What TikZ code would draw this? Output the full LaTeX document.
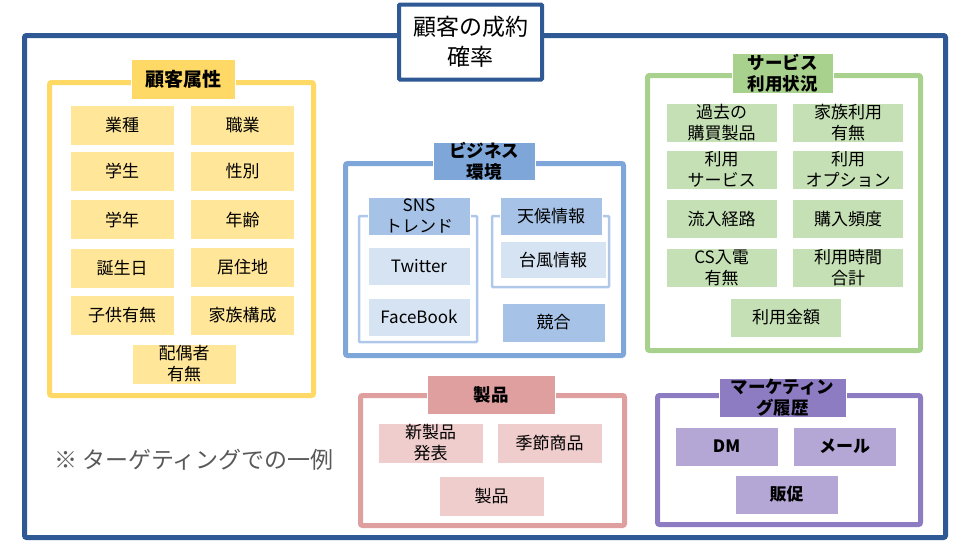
\documentclass[tikz,border=0pt]{standalone}
\usepackage{fontspec}
\setmainfont{Noto Sans CJK JP}
\usepackage{tikz}
\definecolor{tgtnavy}{HTML}{2E5994}
\definecolor{tgtgold}{HTML}{FFD966}
\definecolor{tgtgoldlt}{HTML}{FFE699}
\definecolor{tgtsky}{HTML}{7FA6D9}
\definecolor{tgtskymid}{HTML}{A6C2E6}
\definecolor{tgtskylt}{HTML}{D6E3F3}
\definecolor{tgtskyln}{HTML}{AFC8EA}
\definecolor{tgtsage}{HTML}{A9D18E}
\definecolor{tgtsagelt}{HTML}{C5E0B4}
\definecolor{tgtrose}{HTML}{DF9F9F}
\definecolor{tgtroselt}{HTML}{F0CDCD}
\definecolor{tgtviolet}{HTML}{8E7CC3}
\definecolor{tgtvioletlt}{HTML}{B4A7D6}
\definecolor{tgtgrey}{HTML}{595959}

\begin{document}
\begin{tikzpicture}[x=1pt, y=-1pt,
  frm/.style={draw=#1, line width=5pt, rounded corners=2pt, inner sep=0pt},
  sub/.style={draw=tgtskyln, line width=2.5pt, rounded corners=1pt, inner sep=0pt},
  it/.style={fill=#1, draw=white, line width=0.8pt, inner sep=0pt, align=center, font=\fontsize{17}{21}\selectfont},
  ttl/.style={it=#1, font=\fontsize{17.5}{21}\selectfont\bfseries},
  yi/.style={it=tgtgoldlt, minimum width=104pt, minimum height=40pt},
  gi/.style={it=tgtsagelt, minimum width=111pt, minimum height=39pt},
  pi/.style={it=tgtroselt, minimum width=105pt, minimum height=40pt},
  vi/.style={it=tgtvioletlt, minimum width=103pt, minimum height=39pt, font=\fontsize{17}{21}\selectfont\bfseries},
  head/.style={draw=tgtnavy, fill=white, line width=4pt, rounded corners=1pt, align=center, inner sep=0pt, font=\fontsize{23}{30}\selectfont}]
  \useasboundingbox (0,0) rectangle (968,550);
  % ---- whole ----
  \node[frm=tgtnavy, minimum width=921pt, minimum height=502pt] (whole) at (485,286.5) {};
  \node[head, minimum width=143pt, minimum height=75pt] (goal) at (470.5,42) {顧客の成約\\確率};
  \node[text=tgtgrey, font=\fontsize{23}{27}\selectfont] (note) at (194,460) {※ ターゲティングでの一例};
  % ---- 顧客属性 ----
  \begin{scope}
    \node[frm=tgtgold, minimum width=264pt, minimum height=313pt] (attr) at (181.5,239) {};
    \node[ttl=tgtgold, minimum width=104pt, minimum height=40pt, font=\fontsize{19}{21}\selectfont\bfseries] (attrT) at (183,79) {顧客属性};
    \foreach \i/\x/\y/\t in {1/122/125/業種, 2/242.5/125/職業, 3/122/171/学生, 4/242.5/171/性別, 5/122/219.5/学年, 6/242.5/219.5/年齢, 7/122/268.5/誕生日, 8/242.5/267/居住地, 9/122/315.5/子供有無, 10/242.5/315.5/家族構成, 11/184/364/{配偶者\\有無}} { \node[yi] (a\i) at (\x,\y) {\t}; }
  \end{scope}
  % ---- ビジネス環境 ----
  \begin{scope}
    \node[frm=tgtsky, minimum width=278pt, minimum height=192pt] (biz) at (484.5,259.5) {};
    \node[ttl=tgtsky, minimum width=102pt, minimum height=38pt] (bizT) at (484,161) {ビジネス\\環境};
    \node[sub, minimum width=118pt, minimum height=126pt] (sns) at (418,279) {};
    \node[it=tgtskymid, minimum width=102pt, minimum height=38pt] (snsT) at (419,216) {SNS\\トレンド};
    \node[it=tgtskylt, minimum width=102pt, minimum height=38pt] (tw) at (419,266) {Twitter};
    \node[it=tgtskylt, minimum width=102pt, minimum height=38pt] (fb) at (419,317) {FaceBook};
    \node[sub, minimum width=117pt, minimum height=71pt] (wx) at (550.5,251.5) {};
    \node[it=tgtskymid, minimum width=102pt, minimum height=38pt] (wxT) at (551,216) {天候情報};
    \node[it=tgtskylt, minimum width=106pt, minimum height=37pt] (typh) at (553,260) {台風情報};
    \node[it=tgtskymid, minimum width=103pt, minimum height=39pt] (rival) at (553.5,322.5) {競合};
  \end{scope}
  % ---- サービス利用状況 ----
  \begin{scope}
    \node[frm=tgtsage, minimum width=273pt, minimum height=275pt] (svc) at (784,213) {};
    \node[ttl=tgtsage, minimum width=101pt, minimum height=40pt] (svcT) at (782.5,73) {サービス\\利用状況};
    \foreach \i/\x/\y/\t in {1/721.5/123/{過去の\\購買製品}, 2/848/123/{家族利用\\有無}, 3/721.5/169.5/{利用\\サービス}, 4/848/169.5/{利用\\オプション}, 5/721.5/219/流入経路, 6/848/219/購入頻度, 7/721.5/267.5/{CS入電\\有無}, 8/848/267.5/{利用時間\\合計}, 9/786/317.5/利用金額} { \node[gi] (s\i) at (\x,\y) {\t}; }
  \end{scope}
  % ---- 製品 ----
  \begin{scope}
    \node[frm=tgtrose, minimum width=264pt, minimum height=130pt] (prod) at (492.5,460.5) {};
    \node[ttl=tgtrose, minimum width=128pt, minimum height=39pt] (prodT) at (491,394.5) {製品};
    \foreach \i/\x/\y/\t in {1/430.5/443/{新製品\\発表}, 2/549.5/443/季節商品, 3/491.5/496/製品} { \node[pi] (p\i) at (\x,\y) {\t}; }
  \end{scope}
  % ---- マーケティング履歴 ----
  \begin{scope}
    \node[frm=tgtviolet, minimum width=263pt, minimum height=129pt] (mkt) at (789,460) {};
    \node[ttl=tgtviolet, minimum width=127pt, minimum height=39pt] (mktT) at (782.5,397.5) {マーケティン\\グ履歴};
    \foreach \i/\x/\y/\t in {1/726.5/446.5/DM, 2/844.5/446.5/メール, 3/786.5/494.5/販促} { \node[vi] (m\i) at (\x,\y) {\t}; }
  \end{scope}
\end{tikzpicture}
\end{document}
